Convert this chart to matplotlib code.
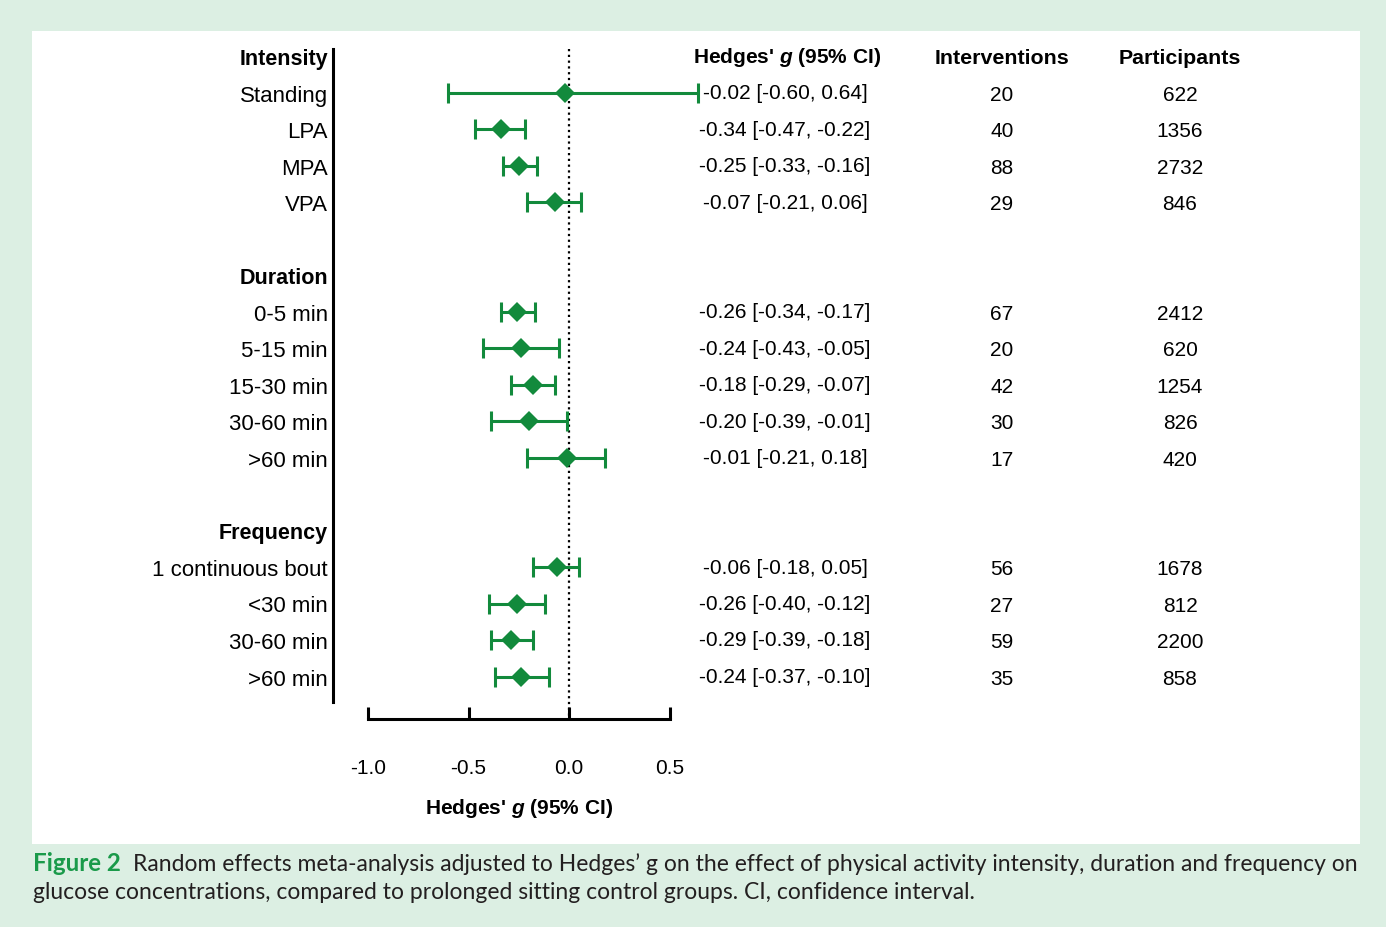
import matplotlib
matplotlib.use("Agg")
import matplotlib.pyplot as plt
from matplotlib.patches import Rectangle
from matplotlib.transforms import blended_transform_factory

# ---- data -------------------------------------------------------------
groups = ["Intensity", "Duration", "Frequency"]
subgroups = [
    ["Standing", "LPA", "MPA", "VPA"],
    ["0-5 min", "5-15 min", "15-30 min", "30-60 min", ">60 min"],
    ["1 continuous bout", "<30 min", "30-60 min", ">60 min"],
]
hedges_g = [
    [-0.02, -0.34, -0.25, -0.07],
    [-0.26, -0.24, -0.18, -0.20, -0.01],
    [-0.06, -0.26, -0.29, -0.24],
]
ci_low = [
    [-0.60, -0.47, -0.33, -0.21],
    [-0.34, -0.43, -0.29, -0.39, -0.21],
    [-0.18, -0.40, -0.39, -0.37],
]
ci_high = [
    [0.64, -0.22, -0.16, 0.06],
    [-0.17, -0.05, -0.07, -0.01, 0.18],
    [0.05, -0.12, -0.18, -0.10],
]
interventions = [
    [20, 40, 88, 29],
    [67, 20, 42, 30, 17],
    [56, 27, 59, 35],
]
participants = [
    [622, 1356, 2732, 846],
    [2412, 620, 1254, 826, 420],
    [1678, 812, 2200, 858],
]
x_ticks = [-1.0, -0.5, 0.0, 0.5]
x_tick_labels = ["-1.0", "-0.5", "0.0", "0.5"]

# ---- style --------------------------------------------------------------
plt.rcParams["font.family"] = ["Liberation Sans", "DejaVu Sans"]
plt.rcParams["axes.unicode_minus"] = False
plt.rcParams["mathtext.fontset"] = "custom"
plt.rcParams["mathtext.it"] = "Liberation Sans:italic:bold"
plt.rcParams["mathtext.rm"] = "Liberation Sans:bold"

GREEN = "#128a3c"
BG = "#dcefe3"
W, H = 1386, 928
FS = 15


def fx(px):
    return px / W


def fy(py):
    return 1 - py / H


ROW0, PITCH = 57.0, 36.5          # pixel centre of first row, row spacing


def row_of(py):
    return (py - ROW0) / PITCH


fig = plt.figure(figsize=(W / 100, H / 100), dpi=100, facecolor=BG)
fig.patches.append(Rectangle((fx(32), fy(845)), fx(1360) - fx(32), fy(32) - fy(845),
                             transform=fig.transFigure, facecolor="white",
                             edgecolor="none", zorder=-10))

ax = fig.add_axes([fx(333), fy(703), fx(700) - fx(333), fy(50) - fy(703)])
ax.set_zorder(5)
ax.set_facecolor("none")
X0, PPU = 569.0, 201.0             # pixel of g=0, pixels per unit
ax.set_xlim((333 - X0) / PPU, (700 - X0) / PPU)
ax.set_ylim(row_of(703), row_of(50))

# ---- rows ---------------------------------------------------------------
tick_pos, tick_lab, header_rows = [], [], []
row = 0
data_rows = []
for gi, gname in enumerate(groups):
    tick_pos.append(row)
    tick_lab.append(gname)
    header_rows.append(row)
    row += 1
    for si, sname in enumerate(subgroups[gi]):
        tick_pos.append(row)
        tick_lab.append(sname)
        data_rows.append((row, hedges_g[gi][si], ci_low[gi][si], ci_high[gi][si],
                          interventions[gi][si], participants[gi][si]))
        row += 1
    row += 1

for r, g, lo, hi, n_int, n_part in data_rows:
    cont = ax.errorbar(g, r, xerr=[[g - lo], [hi - g]], fmt="D", color=GREEN,
                       ecolor=GREEN, ms=10, elinewidth=2.2, capsize=7.2,
                       capthick=2.2, clip_on=False, zorder=3)
    cont.lines[0].set_markeredgewidth(0)

# reference line at zero
ax.plot([0, 0], [row_of(50), row_of(720)], color="black", lw=1.6,
        ls=(0, (1, 1.6)), clip_on=False, zorder=2)

# ---- axes -------------------------------------------------------------
for s in ("top", "right"):
    ax.spines[s].set_visible(False)
ax.spines["left"].set_linewidth(2.2)
ax.spines["bottom"].set_linewidth(2.2)
ax.spines["bottom"].set_position(("outward", 17 * 0.72))
ax.spines["bottom"].set_bounds(-1.0, 0.5)

ax.set_xticks(x_ticks)
ax.set_xticklabels(x_tick_labels)
ax.tick_params(axis="x", direction="in", length=8.6, width=2.2, pad=28.3,
               labelsize=FS)

ax.set_yticks(tick_pos)
ax.set_yticklabels(tick_lab)
ax.tick_params(axis="y", length=0, pad=3.6, labelsize=16)
for lab, r in zip(ax.get_yticklabels(), tick_pos):
    if r in header_rows:
        lab.set_fontweight("bold")
        lab.set_fontsize(15.5)

ax.text(-0.25, row_of(808), r"Hedges' $g$ (95% CI)", ha="center", va="center",
        fontsize=FS, fontweight="bold", clip_on=False)

# ---- table columns ----------------------------------------------------
trans = blended_transform_factory(fig.transFigure, ax.transData)
COL_G, COL_I, COL_P = 785, 1002, 1180
ax.text(fx(787), 0, r"Hedges' $g$ (95% CI)", transform=trans, ha="center",
        va="center", fontsize=FS, fontweight="bold")
ax.text(fx(COL_I), 0.03, "Interventions", transform=trans, ha="center",
        va="center", fontsize=15.4, fontweight="bold")
ax.text(fx(COL_P), 0.03, "Participants", transform=trans, ha="center",
        va="center", fontsize=15.4, fontweight="bold")
for r, g, lo, hi, n_int, n_part in data_rows:
    ax.text(fx(COL_G), r, f"{g:.2f} [{lo:.2f}, {hi:.2f}]", transform=trans,
            ha="center", va="center", fontsize=FS)
    ax.text(fx(COL_I), r + 0.05, f"{n_int}", transform=trans, ha="center",
            va="center", fontsize=FS)
    ax.text(fx(COL_P), r + 0.05, f"{n_part}", transform=trans, ha="center",
            va="center", fontsize=FS)

# ---- caption ----------------------------------------------------------
renderer = fig.canvas.get_renderer()
t_fig = fig.text(fx(33), fy(864), "Figure 2", fontsize=17.4, fontweight="bold",
                 color="#1a9a4a", family="Lato", va="center", ha="left")
x_end = t_fig.get_window_extent(renderer).x1
fig.text((x_end + 12) / W, fy(864),
         "Random effects meta-analysis adjusted to Hedges\u2019 g on the effect of "
         "physical activity intensity, duration and frequency on",
         fontsize=16.45, color="#231f20", family="Lato", va="center", ha="left")
fig.text(fx(33), fy(893),
         "glucose concentrations, compared to prolonged sitting control groups. "
         "CI, confidence interval.",
         fontsize=16.45, color="#231f20", family="Lato", va="center", ha="left")

fig.savefig("out.png", dpi=100, facecolor=BG)
